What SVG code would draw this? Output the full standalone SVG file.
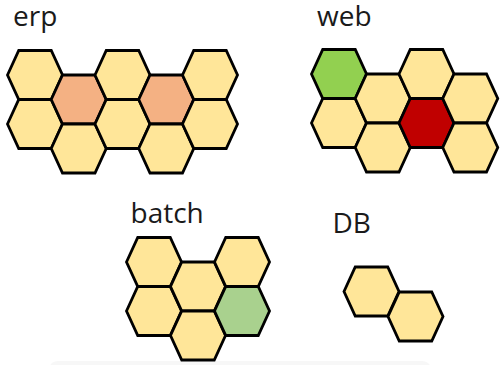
<svg xmlns="http://www.w3.org/2000/svg" xmlns:xlink="http://www.w3.org/1999/xlink" width="500" height="365" viewBox="0 0 500 365">
<style>
.lbl{font-family:"Open Sans","Noto Sans","DejaVu Sans",sans-serif;font-size:28px;fill:#1a1a1a}
.h{stroke:#000;stroke-width:2.8;stroke-linejoin:miter}
.y{fill:#ffe699}.o{fill:#f4b183}.g{fill:#92d050}.r{fill:#c00000}.lg{fill:#a9d18e}
</style>
<defs>
<polygon id="hex" points="-27.5,0 -16.25,-24.5 16.25,-24.5 27.5,0 16.25,24.5 -16.25,24.5"/>
</defs>
<rect x="50" y="361" width="380" height="12" rx="8" fill="#f7f7f7"/>
<g id="erp">
<text class="lbl" x="13" y="26">erp</text>
<use href="#hex" class="h y" x="35" y="75"/>
<use href="#hex" class="h y" x="35" y="124"/>
<use href="#hex" class="h o" x="78.75" y="99.5"/>
<use href="#hex" class="h y" x="78.75" y="148.5"/>
<use href="#hex" class="h y" x="122.5" y="75"/>
<use href="#hex" class="h y" x="122.5" y="124"/>
<use href="#hex" class="h o" x="166.25" y="99.5"/>
<use href="#hex" class="h y" x="166.25" y="148.5"/>
<use href="#hex" class="h y" x="210" y="75"/>
<use href="#hex" class="h y" x="210" y="124"/>
</g>
<g id="web">
<text class="lbl" x="317" y="26">web</text>
<use href="#hex" class="h g" x="339" y="74"/>
<use href="#hex" class="h y" x="339" y="123"/>
<use href="#hex" class="h y" x="382.75" y="98.5"/>
<use href="#hex" class="h y" x="382.75" y="147.5"/>
<use href="#hex" class="h y" x="426.5" y="74"/>
<use href="#hex" class="h r" x="426.5" y="123"/>
<use href="#hex" class="h y" x="470.25" y="98.5"/>
<use href="#hex" class="h y" x="470.25" y="147.5"/>
</g>
<g id="batch">
<text class="lbl" x="130.5" y="223">batch</text>
<use href="#hex" class="h y" x="154" y="262"/>
<use href="#hex" class="h y" x="154" y="311"/>
<use href="#hex" class="h y" x="198" y="286.5"/>
<use href="#hex" class="h y" x="198" y="335.5"/>
<use href="#hex" class="h y" x="242" y="262"/>
<use href="#hex" class="h lg" x="242" y="311"/>
</g>
<g id="db">
<text class="lbl" x="332.5" y="233">DB</text>
<use href="#hex" class="h y" x="371.5" y="291.5"/>
<use href="#hex" class="h y" x="415.5" y="316.5"/>
</g>
<g id="connectors"/>
</svg>
